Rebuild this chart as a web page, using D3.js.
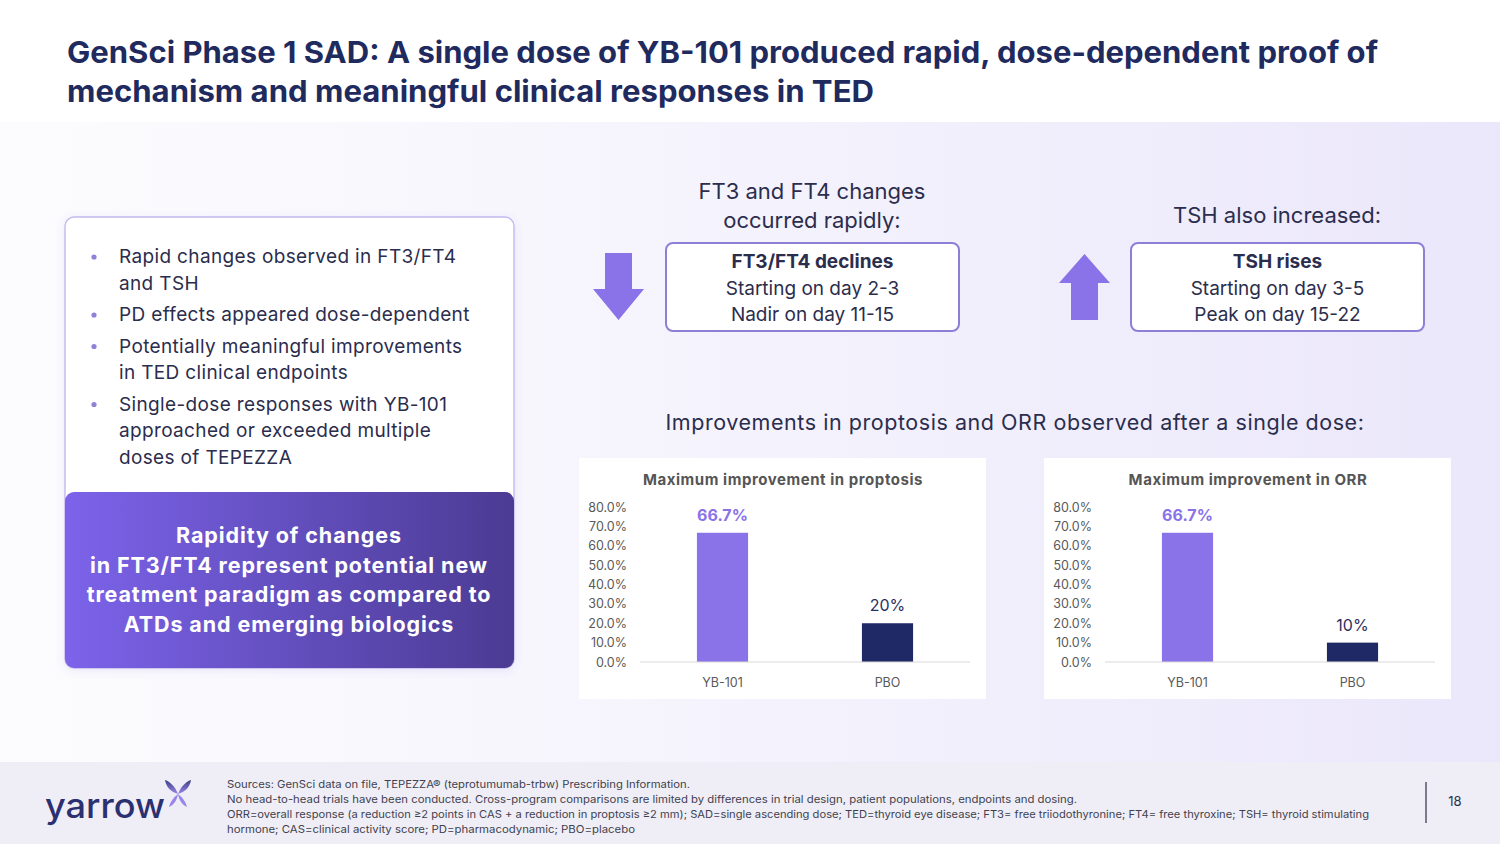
<!DOCTYPE html>
<html>
<head>
<meta charset="utf-8">
<title>YB-101 SAD slide</title>
<style>
html, body { margin: 0; padding: 0; background: #fff; }
svg { display: block; }
text { font-family: Inter, "Noto Sans", sans-serif; }
</style>
</head>
<body>
<svg width="1500" height="844"></svg>
<script src="https://cdnjs.cloudflare.com/ajax/libs/d3/7.8.5/d3.min.js"></script>
<script>
// chart data
var categories = ["YB-101", "PBO"];
var proptosisValues = [66.7, 20];
var proptosisLabels = ["66.7%", "20%"];
var orrValues = [66.7, 10];
var orrLabels = ["66.7%", "10%"];
var yTicks = [0, 10, 20, 30, 40, 50, 60, 70, 80];

// slide text
var titleLines = [
  "GenSci Phase 1 SAD: A single dose of YB-101 produced rapid, dose-dependent proof of",
  "mechanism and meaningful clinical responses in TED"
];
var bullets = [
  ["Rapid changes observed in FT3/FT4", "and TSH"],
  ["PD effects appeared dose-dependent"],
  ["Potentially meaningful improvements", "in TED clinical endpoints"],
  ["Single-dose responses with YB-101", "approached or exceeded multiple", "doses of TEPEZZA"]
];
var calloutLines = ["Rapidity of changes", "in FT3/FT4 represent potential new",
  "treatment paradigm as compared to", "ATDs and emerging biologics"];
var footLines = [
  "Sources: GenSci data on file, TEPEZZA\u00ae (teprotumumab-trbw) Prescribing Information.",
  "No head-to-head trials have been conducted. Cross-program comparisons are limited by differences in trial design, patient populations, endpoints and dosing.",
  "ORR=overall response (a reduction \u22652 points in CAS + a reduction in proptosis \u22652 mm); SAD=single ascending dose; TED=thyroid eye disease; FT3= free triiodothyronine; FT4= free thyroxine; TSH= thyroid stimulating",
  "hormone; CAS=clinical activity score; PD=pharmacodynamic; PBO=placebo"
];

var navy = "#1f2a5e", ink = "#2b2d4d", purple = "#8a72e8", dark = "#1f2966";

var svg = d3.select("svg");
var defs = svg.append("defs");

var bg = defs.append("linearGradient").attr("id", "bgGrad").attr("x1", 0).attr("x2", 1).attr("y1", 0).attr("y2", 0);
bg.append("stop").attr("offset", 0).attr("stop-color", "#fcfcfe");
bg.append("stop").attr("offset", 0.35).attr("stop-color", "#f7f6fd");
bg.append("stop").attr("offset", 1).attr("stop-color", "#ebe7fb");

var cg = defs.append("linearGradient").attr("id", "callGrad").attr("x1", 0).attr("x2", 1).attr("y1", 0).attr("y2", 0);
cg.append("stop").attr("offset", 0).attr("stop-color", "#7c63ea");
cg.append("stop").attr("offset", 1).attr("stop-color", "#4b3b93");

var lg = defs.append("linearGradient").attr("id", "logoGrad").attr("x1", 0).attr("x2", 0).attr("y1", 0).attr("y2", 1);
lg.append("stop").attr("offset", 0).attr("stop-color", "#3a3f86");
lg.append("stop").attr("offset", 1).attr("stop-color", "#9a86e8");

var sh = defs.append("filter").attr("id", "shadow").attr("x", -0.1).attr("y", -0.1).attr("width", 1.2).attr("height", 1.2);
sh.append("feDropShadow").attr("dx", 0).attr("dy", 2).attr("stdDeviation", 4).attr("flood-color", "#6a5acd").attr("flood-opacity", 0.12);

// background
svg.append("rect").attr("width", 1500).attr("height", 844).attr("fill", "#fff");
svg.append("rect").attr("x", 0).attr("y", 122).attr("width", 1500).attr("height", 640).attr("fill", "url(#bgGrad)");
svg.append("rect").attr("x", 0).attr("y", 762).attr("width", 1500).attr("height", 82).attr("fill", "#efeef6");

// title
var titleW = [1311, 807];
titleLines.forEach(function(t, i) {
  svg.append("text").attr("x", 67).attr("y", 63 + i * 39)
    .attr("font-size", 30).attr("font-weight", 700).attr("fill", navy)
    .attr("textLength", titleW[i]).attr("lengthAdjust", "spacingAndGlyphs")
    .text(t);
});

// left box with bullets
svg.append("rect").attr("x", 65).attr("y", 217).attr("width", 449).attr("height", 451)
  .attr("rx", 9).attr("fill", "#fff").attr("stroke", "#c3b9ee").attr("stroke-width", 1.4)
  .attr("filter", "url(#shadow)");

var by = 263;
bullets.forEach(function(lines, bi) {
  svg.append("circle").attr("cx", 94).attr("cy", by - 6).attr("r", 2.6).attr("fill", "#8f80d8");
  lines.forEach(function(l, li) {
    svg.append("text").attr("x", 119).attr("y", by + li * 26.5)
      .attr("font-size", 19).attr("letter-spacing", 0.35).attr("fill", ink).text(l);
  });
  by += lines.length * 26.5 + 5;
});

svg.append("rect").attr("x", 65).attr("y", 492).attr("width", 449).attr("height", 176)
  .attr("rx", 9).attr("fill", "url(#callGrad)");
calloutLines.forEach(function(l, i) {
  svg.append("text").attr("x", 289).attr("y", 543 + i * 29.7).attr("text-anchor", "middle")
    .attr("font-size", 21.5).attr("font-weight", 700).attr("letter-spacing", 0.9)
    .attr("fill", "#fff").text(l);
});

// FT3/FT4 block
[["FT3 and FT4 changes", 199], ["occurred rapidly:", 228]].forEach(function(d) {
  svg.append("text").attr("x", 812).attr("y", d[1]).attr("text-anchor", "middle")
    .attr("font-size", 22).attr("fill", ink).text(d[0]);
});
svg.append("text").attr("x", 1277).attr("y", 223).attr("text-anchor", "middle")
  .attr("font-size", 22).attr("fill", ink).text("TSH also increased:");

function infoBox(x, head, l1, l2) {
  svg.append("rect").attr("x", x).attr("y", 243).attr("width", 293).attr("height", 88)
    .attr("rx", 7).attr("fill", "#fff").attr("stroke", "#8e7fd6").attr("stroke-width", 2);
  var cx = x + 146.5;
  svg.append("text").attr("x", cx).attr("y", 268).attr("text-anchor", "middle")
    .attr("font-size", 19).attr("font-weight", 700).attr("fill", ink).text(head);
  svg.append("text").attr("x", cx).attr("y", 295).attr("text-anchor", "middle")
    .attr("font-size", 19).attr("fill", ink).text(l1);
  svg.append("text").attr("x", cx).attr("y", 321).attr("text-anchor", "middle")
    .attr("font-size", 19).attr("fill", ink).text(l2);
}
infoBox(666, "FT3/FT4 declines", "Starting on day 2-3", "Nadir on day 11-15");
infoBox(1131, "TSH rises", "Starting on day 3-5", "Peak on day 15-22");

// arrows
svg.append("path").attr("fill", purple)
  .attr("d", "M605,253 L632,253 L632,289 L644,289 L618.5,320 L593,289 L605,289 Z");
svg.append("path").attr("fill", purple)
  .attr("d", "M1071,320 L1098,320 L1098,283 L1110,283 L1084.5,254 L1059,283 L1071,283 Z");

svg.append("text").attr("x", 1015).attr("y", 430).attr("text-anchor", "middle")
  .attr("font-size", 21.5).attr("letter-spacing", 0.55).attr("fill", ink)
  .text("Improvements in proptosis and ORR observed after a single dose:");

// bar charts
function drawChart(px, title, values, labels) {
  var g = svg.append("g").attr("transform", "translate(" + px + ",458)");
  g.append("rect").attr("width", 407).attr("height", 241).attr("fill", "#fff");
  g.append("text").attr("x", 204).attr("y", 27).attr("text-anchor", "middle")
    .attr("font-size", 15).attr("font-weight", 700).attr("letter-spacing", 0.55).attr("fill", "#555")
    .text(title);

  var x = d3.scaleBand().domain(categories).range([61, 391]).padding(0);
  var y = d3.scaleLinear().domain([0, 80]).range([204, 49]);

  var yAxis = g.append("g").attr("transform", "translate(48,0)")
    .call(d3.axisLeft(y).tickValues(yTicks).tickSize(0).tickPadding(0)
      .tickFormat(function(d) { return d.toFixed(1) + "%"; }));
  yAxis.select(".domain").remove();
  yAxis.selectAll("text").attr("font-size", 12.5).attr("fill", "#595959")
    .attr("font-family", "'Liberation Sans', Arial, sans-serif");

  var bw = x.bandwidth() * 0.31;
  g.selectAll("rect.bar").data(values).enter().append("rect").attr("class", "bar")
    .attr("x", function(d, i) { return x(categories[i]) + x.bandwidth() / 2 - bw / 2; })
    .attr("y", function(d) { return y(d); })
    .attr("width", bw)
    .attr("height", function(d) { return y(0) - y(d); })
    .attr("fill", function(d, i) { return i === 0 ? purple : dark; });

  g.append("line").attr("x1", 61).attr("x2", 391).attr("y1", y(0)).attr("y2", y(0))
    .attr("stroke", "#d9d9d9").attr("stroke-width", 1.2);

  g.selectAll("text.val").data(values).enter().append("text").attr("class", "val")
    .attr("x", function(d, i) { return x(categories[i]) + x.bandwidth() / 2; })
    .attr("y", function(d) { return y(d) - 12; })
    .attr("text-anchor", "middle").attr("font-size", 16)
    .attr("font-weight", function(d, i) { return i === 0 ? 700 : 400; })
    .attr("fill", function(d, i) { return i === 0 ? purple : "#2a2f5e"; })
    .text(function(d, i) { return labels[i]; });

  var xAxis = g.append("g").attr("transform", "translate(0," + y(0) + ")")
    .call(d3.axisBottom(x).tickSize(0).tickPadding(16));
  xAxis.select(".domain").remove();
  xAxis.selectAll("text").attr("font-size", 12.5).attr("fill", "#595959")
    .attr("font-family", "'Liberation Sans', Arial, sans-serif");
}
drawChart(579, "Maximum improvement in proptosis", proptosisValues, proptosisLabels);
drawChart(1044, "Maximum improvement in ORR", orrValues, orrLabels);

// footer
svg.append("text").attr("x", 45).attr("y", 818).attr("font-size", 35).attr("font-weight", 500)
  .attr("fill", "#2b3070").attr("textLength", 120).attr("lengthAdjust", "spacingAndGlyphs").text("yarrow");
var logo = svg.append("g").attr("transform", "translate(178,794)");
logo.append("path").attr("fill", "url(#logoGrad)").attr("d", "M0,0 C-3,-8 -9,-13 -13,-14 C-12,-7 -7,-2 0,0 Z");
logo.append("path").attr("fill", "url(#logoGrad)").attr("d", "M0,0 C3,-8 9,-13 13,-14 C12,-7 7,-2 0,0 Z");
logo.append("path").attr("fill", "#9a86e8").attr("d", "M0,0 C-4,3 -8,8 -9,13 C-4,11 -1,6 0,0 Z");
logo.append("path").attr("fill", "#9a86e8").attr("d", "M0,0 C4,3 8,8 9,13 C4,11 1,6 0,0 Z");

var footW = [463, 850, 1142, 408];
footLines.forEach(function(t, i) {
  svg.append("text").attr("x", 227).attr("y", 788 + i * 15)
    .attr("font-size", 10.5).attr("fill", "#3f3f4f")
    .attr("textLength", footW[i]).attr("lengthAdjust", "spacingAndGlyphs").text(t);
});
svg.append("line").attr("x1", 1426).attr("x2", 1426).attr("y1", 782).attr("y2", 823)
  .attr("stroke", "#2b2d4d").attr("stroke-width", 1.2);
svg.append("text").attr("x", 1455).attr("y", 806).attr("text-anchor", "middle")
  .attr("font-size", 13).attr("fill", "#2b2d4d").text("18");
</script>
</body>
</html>
